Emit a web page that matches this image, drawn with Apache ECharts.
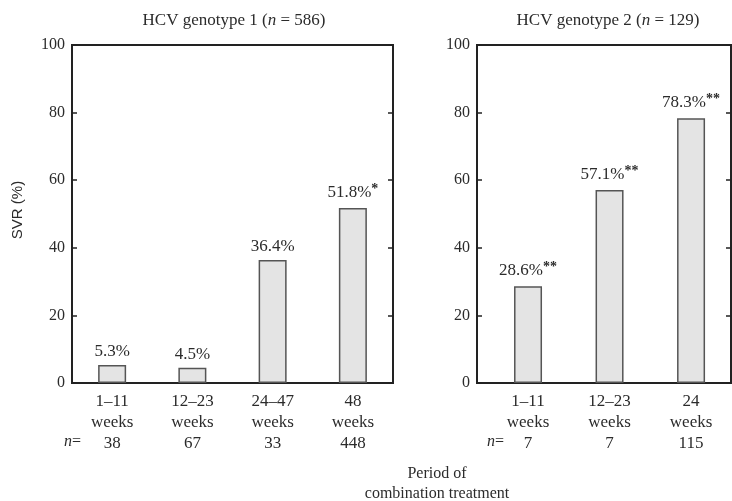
<!DOCTYPE html>
<html>
<head>
<meta charset="utf-8">
<script src="https://cdn.jsdelivr.net/npm/echarts@6/dist/echarts.min.js"></script>
<style>
  html, body { margin: 0; padding: 0; background: #fff; }
  #chart { width: 732px; height: 501px; }
</style>
</head>
<body>
<div id="chart"></div>
<script>
// SVR by period of combination treatment, split by HCV genotype
const g1Periods = ['1–11', '12–23', '24–47', '48'];
const g1Counts = [38, 67, 33, 448];
const g1Svr = [5.3, 4.5, 36.4, 51.8];
const g1Marks = ['', '', '', '*'];

const g2Periods = ['1–11', '12–23', '24'];
const g2Counts = [7, 7, 115];
const g2Svr = [28.6, 57.1, 78.3];
const g2Marks = ['**', '**', '**'];

const yTicks = [0, 20, 40, 60, 80, 100];

const SERIF = '"Liberation Serif", "DejaVu Serif", serif';
const INK = '#2b2b2b';

const chart = echarts.init(document.getElementById('chart'), null, { renderer: 'canvas' });

function catLabel(periods, counts, i) {
  return '{a|' + periods[i] + '}\n{a|weeks}\n{a|' + counts[i] + '}';
}

const catRich = { a: { fontFamily: SERIF, fontSize: 17, color: INK, lineHeight: 21 } };

const valRich = {
  v: { fontFamily: SERIF, fontSize: 17, color: INK },
  s: { fontFamily: SERIF, fontSize: 14, fontWeight: 'bold', color: INK, padding: [0, 0, 7, 0] }
};

function valueLabel(marks) {
  return {
    show: true,
    position: 'top',
    distance: 5,
    formatter: p => {
      const v = Array.isArray(p.value) ? p.value[1] : p.value;
      const m = marks[p.dataIndex];
      return '{v|' + v.toFixed(1) + '%}' + (m ? '{s|' + m + '}' : '');
    },
    rich: valRich
  };
}

const barStyle = { color: '#e4e4e4', borderColor: '#555', borderWidth: 1.5 };

function yAxisPair(gridIndex, showLabels) {
  const base = {
    type: 'value', gridIndex, min: 0, max: 100, interval: 20,
    axisLine: { show: false, onZero: false },
    splitLine: { show: false },
    axisTick: { show: true, inside: true, length: 5, lineStyle: { color: '#222', width: 1.5 } }
  };
  return [
    Object.assign({}, base, {
      position: 'left',
      axisLabel: { show: showLabels, fontFamily: SERIF, fontSize: 16, color: INK, margin: 7,
                   formatter: v => yTicks.includes(v) ? String(v) : '' }
    }),
    Object.assign({}, base, { position: 'right', axisLabel: { show: false } })
  ];
}

const titleRich = {
  t: { fontFamily: SERIF, fontSize: 17, fill: INK },
  i: { fontFamily: SERIF, fontSize: 17, fontStyle: 'italic', fill: INK }
};
const nRich = {
  t: { fontFamily: SERIF, fontSize: 16, fill: INK },
  i: { fontFamily: SERIF, fontSize: 16, fontStyle: 'italic', fill: INK }
};

const option = {
  animation: false,
  backgroundColor: '#fff',
  grid: [
    { left: 72, right: 339, top: 45, bottom: 118, show: true, borderColor: '#222', borderWidth: 2 },
    { left: 477, right: 1, top: 45, bottom: 118, show: true, borderColor: '#222', borderWidth: 2 }
  ],
  xAxis: [
    {
      type: 'category', gridIndex: 0, data: g1Periods,
      axisLine: { show: false }, axisTick: { show: false },
      axisLabel: { margin: 8, formatter: (v, i) => catLabel(g1Periods, g1Counts, i), rich: catRich }
    },
    {
      type: 'value', gridIndex: 1, min: -0.626, max: 2.49,
      axisLine: { show: false, onZero: false }, axisTick: { show: false }, splitLine: { show: false },
      axisLabel: {
        margin: 8, customValues: [0, 1, 2],
        formatter: v => catLabel(g2Periods, g2Counts, Math.round(v)), rich: catRich
      }
    }
  ],
  yAxis: [].concat(yAxisPair(0, true), yAxisPair(1, true)),
  series: [
    {
      type: 'bar', xAxisIndex: 0, yAxisIndex: 0, barWidth: 28,
      data: g1Svr, itemStyle: barStyle, label: valueLabel(g1Marks)
    },
    {
      type: 'bar', xAxisIndex: 1, yAxisIndex: 2, barWidth: 28,
      data: g2Svr.map((v, i) => [i, v]), itemStyle: barStyle, label: valueLabel(g2Marks)
    }
  ],
  graphic: [
    {
      type: 'text', x: 234, y: 21,
      style: { text: '{t|HCV genotype 1 (}{i|n}{t| = 586)}', align: 'center', verticalAlign: 'middle', rich: titleRich }
    },
    {
      type: 'text', x: 608, y: 21,
      style: { text: '{t|HCV genotype 2 (}{i|n}{t| = 129)}', align: 'center', verticalAlign: 'middle', rich: titleRich }
    },
    {
      type: 'text', x: 18, y: 210, rotation: Math.PI / 2,
      style: { text: 'SVR (%)', align: 'center', verticalAlign: 'middle', fontFamily: '"Liberation Sans", sans-serif', fontSize: 15, fill: INK }
    },
    {
      type: 'text', x: 64, y: 442,
      style: { text: '{i|n}{t|=}', verticalAlign: 'middle', rich: nRich }
    },
    {
      type: 'text', x: 487, y: 442,
      style: { text: '{i|n}{t|=}', verticalAlign: 'middle', rich: nRich }
    },
    {
      type: 'text', x: 437, y: 484,
      style: { text: 'Period of\ncombination treatment', align: 'center', verticalAlign: 'middle',
        fontFamily: SERIF, fontSize: 16, lineHeight: 20, fill: INK }
    }
  ]
};

chart.setOption(option);
</script>
</body>
</html>
